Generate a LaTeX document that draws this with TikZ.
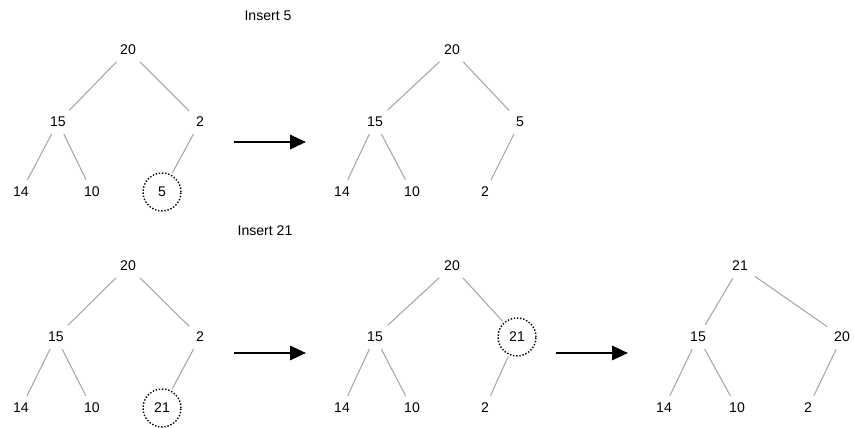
\documentclass[tikz,border=0pt]{standalone}
\usepackage{fontspec}
\setmainfont{Liberation Sans}
\usetikzlibrary{arrows.meta}

\begin{document}
\begin{tikzpicture}[
  x=0.02cm, y=-0.02cm,
  key/.style={font=\fontsize{8}{10}\selectfont, inner sep=3pt},
  newkey/.style={key, circle, draw, densely dotted, thick, minimum size=0.76cm, inner sep=0pt},
  link/.style={draw=black!35, line width=0.6pt, shorten <=1pt, shorten >=1pt},
  step-arrow/.style={-{Triangle[length=9pt, width=8pt]}, line width=1.4pt}
]
\useasboundingbox (0,0) rectangle (854,428);

% Headings
\node (title-five) at (268,16) [key] {Insert 5};
\node (title-twentyone) at (265,231) [key] {Insert 21};

% Insert 5: before
\node (a-20) at (128,50) [key] {20};
\node (a-15) at (58,122) [key] {15};
\node (a-2) at (200,122) [key] {2};
\node (a-14) at (21,192) [key] {14};
\node (a-10) at (92,192) [key] {10};
\node (a-5) at (162,192) [newkey] {5};
\draw[link] (a-20) -- (a-15);
\draw[link] (a-20) -- (a-2);
\draw[link] (a-15) -- (a-14);
\draw[link] (a-15) -- (a-10);
\draw[link] (a-2) -- (a-5);

% Insert 5: after sift-up
\node (b-20) at (452,50) [key] {20};
\node (b-15) at (375,122) [key] {15};
\node (b-5) at (520,122) [key] {5};
\node (b-14) at (342,192) [key] {14};
\node (b-10) at (412,192) [key] {10};
\node (b-2) at (485,192) [key] {2};
\draw[link] (b-20) -- (b-15);
\draw[link] (b-20) -- (b-5);
\draw[link] (b-15) -- (b-14);
\draw[link] (b-15) -- (b-10);
\draw[link] (b-5) -- (b-2);

% Insert 21: before
\node (c-20) at (128,266) [key] {20};
\node (c-15) at (56,337) [key] {15};
\node (c-2) at (200,337) [key] {2};
\node (c-14) at (21,408) [key] {14};
\node (c-10) at (92,408) [key] {10};
\node (c-21) at (162,408) [newkey] {21};
\draw[link] (c-20) -- (c-15);
\draw[link] (c-20) -- (c-2);
\draw[link] (c-15) -- (c-14);
\draw[link] (c-15) -- (c-10);
\draw[link] (c-2) -- (c-21);

% Insert 21: first swap
\node (d-20) at (452,266) [key] {20};
\node (d-15) at (375,337) [key] {15};
\node (d-21) at (517,337) [newkey] {21};
\node (d-14) at (342,408) [key] {14};
\node (d-10) at (412,408) [key] {10};
\node (d-2) at (485,408) [key] {2};
\draw[link] (d-20) -- (d-15);
\draw[link] (d-20) -- (d-21);
\draw[link] (d-15) -- (d-14);
\draw[link] (d-15) -- (d-10);
\draw[link] (d-21) -- (d-2);

% Insert 21: second swap
\node (e-21) at (740,266) [key] {21};
\node (e-15) at (698,337) [key] {15};
\node (e-20) at (842,337) [key] {20};
\node (e-14) at (664,408) [key] {14};
\node (e-10) at (737,408) [key] {10};
\node (e-2) at (808,408) [key] {2};
\draw[link] (e-21) -- (e-15);
\draw[link] (e-21) -- (e-20);
\draw[link] (e-15) -- (e-14);
\draw[link] (e-15) -- (e-10);
\draw[link] (e-20) -- (e-2);

% Step arrows
\coordinate (arr1-from) at (234,142);
\coordinate (arr1-to) at (306,142);
\coordinate (arr2-from) at (234,353);
\coordinate (arr2-to) at (306,353);
\coordinate (arr3-from) at (556,353);
\coordinate (arr3-to) at (628,353);
\draw[step-arrow] (arr1-from) -- (arr1-to);
\draw[step-arrow] (arr2-from) -- (arr2-to);
\draw[step-arrow] (arr3-from) -- (arr3-to);

\end{tikzpicture}
\end{document}
